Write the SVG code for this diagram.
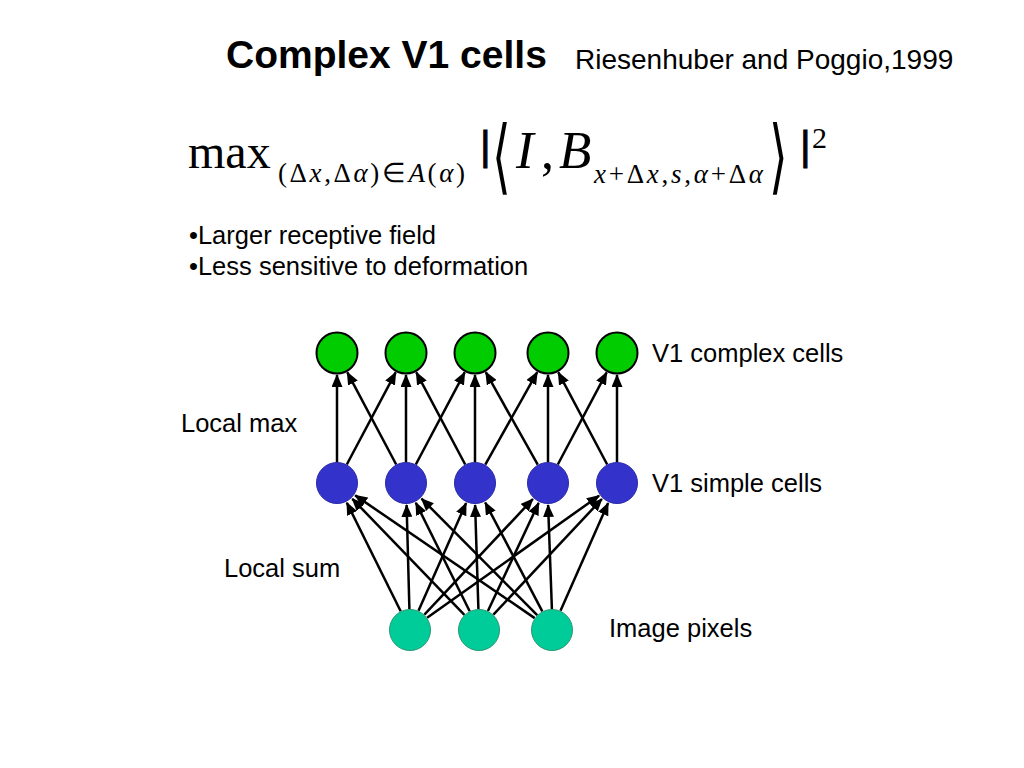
<svg xmlns="http://www.w3.org/2000/svg" width="1024" height="768" viewBox="0 0 1024 768">
<style>
.sans{font-family:"Liberation Sans",Arial,sans-serif;fill:#000}
.lbl{font-size:25.5px}
.serif{font-family:"Liberation Serif","Times New Roman",serif;fill:#000}
.it{font-style:italic}
.bar{font-family:"Liberation Sans",Arial,sans-serif;fill:#000;stroke:#000;stroke-width:0.9}
.green{fill:#00CC00;stroke:#000;stroke-width:2}
.blue{fill:#3333CC;stroke:#2a2aa8;stroke-width:1}
.teal{fill:#00CC99;stroke:#2a9a72;stroke-width:1}
.edge{stroke:#000;stroke-width:2.5;fill:none;marker-end:url(#arr)}
.brk{font-family:"DejaVu Sans",sans-serif;fill:#000}
</style>
<defs>
<marker id="arr" markerUnits="userSpaceOnUse" markerWidth="13" markerHeight="11" refX="12" refY="5.5" orient="auto" viewBox="0 0 13 11">
<path d="M0,0 L13,5.5 L0,11 z" fill="#000"/>
</marker>
</defs>
<rect width="1024" height="768" fill="#fff"/>
<g id="title">
<text class="sans" x="226" y="68" font-size="39" font-weight="bold">Complex V1 cells</text>
<text class="sans" x="575" y="69" font-size="28">Riesenhuber and Poggio,1999</text>
</g>
<g id="formula">
<text class="serif" x="188" y="168" font-size="48">max</text>
<text class="serif" x="278" y="182" font-size="27" textLength="187" lengthAdjust="spacing">(Δ<tspan class="it">x</tspan>,Δ<tspan class="it">α</tspan>)∈<tspan class="it">A</tspan>(<tspan class="it">α</tspan>)</text>
<text class="bar" x="480" y="160" font-size="41">|</text>
<text class="brk" font-size="60" transform="translate(492,184) scale(0.8,1.36)">⟨</text>
<text class="serif it" x="516" y="168" font-size="53">I</text>
<text class="serif" x="541" y="168" font-size="52">,</text>
<text class="serif it" x="559" y="168" font-size="53">B</text>
<text class="serif" x="594" y="183" font-size="27" textLength="169" lengthAdjust="spacing"><tspan class="it">x</tspan>+Δ<tspan class="it">x</tspan>,<tspan class="it">s</tspan>,<tspan class="it">α</tspan>+Δ<tspan class="it">α</tspan></text>
<text class="brk" font-size="60" transform="translate(769,184) scale(0.8,1.36)">⟩</text>
<text class="bar" x="800" y="160" font-size="41">|</text>
<text class="serif" x="812" y="148" font-size="30">2</text>
</g>
<g id="bullets">
<text class="sans lbl" x="189" y="244">•Larger receptive field</text>
<text class="sans lbl" x="189" y="275">•Less sensitive to deformation</text>
</g>
<g id="labels">
<text class="sans lbl" x="652" y="362">V1 complex cells</text>
<text class="sans lbl" x="181" y="432">Local max</text>
<text class="sans lbl" x="652" y="492">V1 simple cells</text>
<text class="sans lbl" x="224" y="577">Local sum</text>
<text class="sans lbl" x="609" y="637">Image pixels</text>
</g>
<g id="connectors">
<line class="edge" x1="337" y1="462" x2="337" y2="375"/>
<line class="edge" x1="346.8" y1="464.5" x2="395.7" y2="372.4"/>
<line class="edge" x1="406" y1="462" x2="406" y2="375"/>
<line class="edge" x1="396.2" y1="464.5" x2="347.3" y2="372.4"/>
<line class="edge" x1="415.8" y1="464.5" x2="464.7" y2="372.4"/>
<line class="edge" x1="475" y1="462" x2="475" y2="375"/>
<line class="edge" x1="465.2" y1="464.5" x2="416.3" y2="372.4"/>
<line class="edge" x1="485.3" y1="464.7" x2="537.2" y2="372.2"/>
<line class="edge" x1="548" y1="462" x2="548" y2="375"/>
<line class="edge" x1="537.7" y1="464.7" x2="485.8" y2="372.2"/>
<line class="edge" x1="557.8" y1="464.5" x2="606.7" y2="372.4"/>
<line class="edge" x1="617" y1="462" x2="617" y2="375"/>
<line class="edge" x1="607.2" y1="464.5" x2="558.3" y2="372.4"/>
<line class="edge" x1="400.7" y1="611.2" x2="346.8" y2="502.7"/>
<line class="edge" x1="409.4" y1="609" x2="406.6" y2="505"/>
<line class="edge" x1="418.5" y1="610.8" x2="466.1" y2="503.1"/>
<line class="edge" x1="424.4" y1="614.7" x2="532.9" y2="499"/>
<line class="edge" x1="427.1" y1="617.8" x2="599.1" y2="495.7"/>
<line class="edge" x1="464.4" y1="614.9" x2="352.3" y2="498.8"/>
<line class="edge" x1="469.7" y1="611.2" x2="415.8" y2="502.7"/>
<line class="edge" x1="478.4" y1="609" x2="475.1" y2="505"/>
<line class="edge" x1="487.9" y1="611" x2="538.7" y2="502.9"/>
<line class="edge" x1="493.4" y1="614.7" x2="601.9" y2="499"/>
<line class="edge" x1="534.7" y1="618.1" x2="355.2" y2="495.4"/>
<line class="edge" x1="537.2" y1="615.1" x2="421.5" y2="498.6"/>
<line class="edge" x1="542.3" y1="611.4" x2="485.2" y2="502.5"/>
<line class="edge" x1="551.9" y1="609" x2="548.1" y2="505"/>
<line class="edge" x1="560.5" y1="610.8" x2="608.1" y2="503.1"/>
</g>
<g id="complex-1"><circle class="green" cx="337" cy="353" r="20.5"/></g>
<g id="complex-2"><circle class="green" cx="406" cy="353" r="20.5"/></g>
<g id="complex-3"><circle class="green" cx="475" cy="353" r="20.5"/></g>
<g id="complex-4"><circle class="green" cx="548" cy="353" r="20.5"/></g>
<g id="complex-5"><circle class="green" cx="617" cy="353" r="20.5"/></g>
<g id="simple-1"><circle class="blue" cx="337" cy="483" r="20.5"/></g>
<g id="simple-2"><circle class="blue" cx="406" cy="483" r="20.5"/></g>
<g id="simple-3"><circle class="blue" cx="475" cy="483" r="20.5"/></g>
<g id="simple-4"><circle class="blue" cx="548" cy="483" r="20.5"/></g>
<g id="simple-5"><circle class="blue" cx="617" cy="483" r="20.5"/></g>
<g id="pixel-1"><circle class="teal" cx="410" cy="630" r="20.5"/></g>
<g id="pixel-2"><circle class="teal" cx="479" cy="630" r="20.5"/></g>
<g id="pixel-3"><circle class="teal" cx="552" cy="630" r="20.5"/></g>
</svg>
